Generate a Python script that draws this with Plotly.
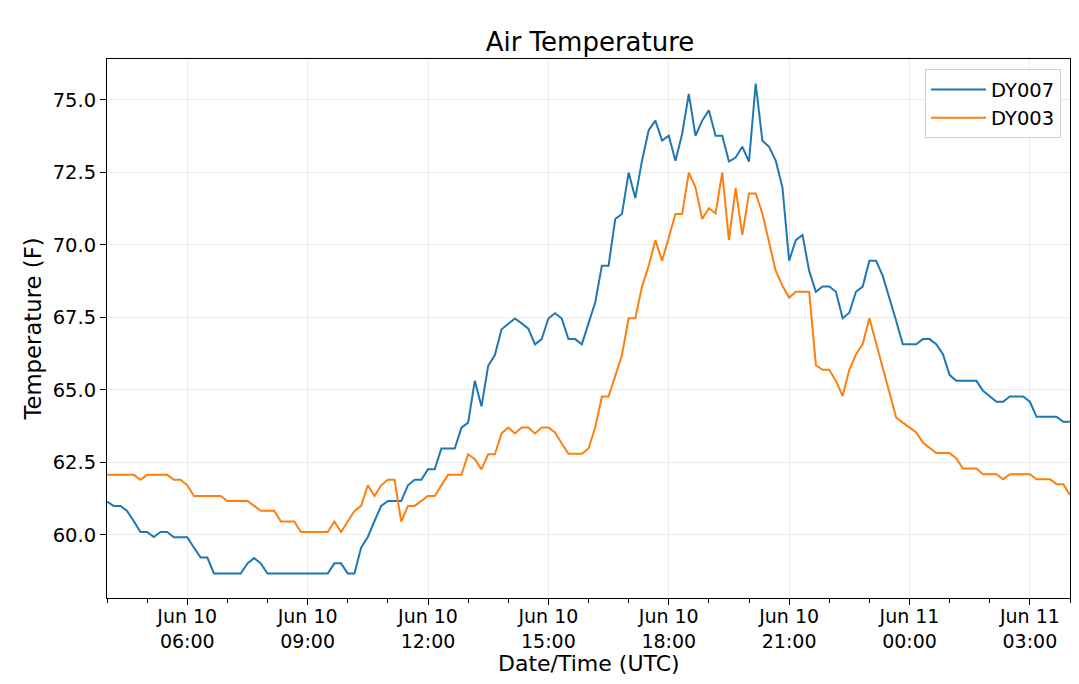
import pandas as pd
import plotly.graph_objects as go

# 10-minute readings, Jun 10 04:00 -> Jun 11 04:00 (UTC)
start_time = "2019-06-10 04:00"
end_time = "2019-06-11 04:00"

dy007 = [
    61.15, 61.0, 61.0, 60.83, 60.48, 60.1, 60.1, 59.93, 60.1, 60.1,
    59.92, 59.92, 59.92, 59.56, 59.22, 59.22, 58.67, 58.67, 58.67, 58.67,
    58.67, 59.02, 59.2, 59.02, 58.67, 58.67, 58.67, 58.67, 58.67, 58.67,
    58.67, 58.67, 58.67, 58.67, 59.02, 59.02, 58.67, 58.67, 59.56, 59.93,
    60.48, 61.0, 61.17, 61.17, 61.17, 61.71, 61.9, 61.9, 62.26, 62.26,
    62.98, 62.98, 62.98, 63.7, 63.87, 65.31, 64.43, 65.83, 66.2, 67.09,
    67.29, 67.46, 67.29, 67.11, 66.57, 66.75, 67.46, 67.64, 67.46, 66.75,
    66.75, 66.57, 67.29, 68.01, 69.28, 69.28, 70.89, 71.06, 72.49, 71.61,
    72.9, 73.95, 74.28, 73.59, 73.76, 72.9, 73.82, 75.2, 73.76, 74.28,
    74.64, 73.76, 73.76, 72.87, 73.01, 73.38, 72.87, 75.56, 73.59, 73.38,
    72.9, 71.98, 69.45, 70.16, 70.34, 69.1, 68.38, 68.56, 68.56, 68.38,
    67.47, 67.66, 68.38, 68.56, 69.45, 69.45, 68.93, 68.18, 67.38, 66.57,
    66.57, 66.57, 66.75, 66.75, 66.57, 66.23, 65.51, 65.31, 65.31, 65.31,
    65.31, 64.97, 64.79, 64.59, 64.59, 64.77, 64.77, 64.77, 64.59, 64.07,
    64.07, 64.07, 64.07, 63.9, 63.9,
]

dy003 = [
    62.07, 62.07, 62.07, 62.07, 62.07, 61.9, 62.07, 62.07, 62.07, 62.07,
    61.9, 61.9, 61.71, 61.34, 61.34, 61.34, 61.34, 61.34, 61.17, 61.17,
    61.17, 61.17, 61.0, 60.83, 60.83, 60.83, 60.46, 60.46, 60.46, 60.1,
    60.1, 60.1, 60.1, 60.1, 60.46, 60.1, 60.46, 60.83, 61.0, 61.71,
    61.34, 61.71, 61.9, 61.9, 60.46, 61.0, 61.0, 61.17, 61.34, 61.34,
    61.69, 62.07, 62.07, 62.07, 62.78, 62.61, 62.26, 62.78, 62.78, 63.5,
    63.7, 63.5, 63.7, 63.7, 63.5, 63.7, 63.7, 63.53, 63.15, 62.8,
    62.8, 62.8, 62.98, 63.7, 64.77, 64.77, 65.48, 66.2, 67.47, 67.47,
    68.56, 69.28, 70.16, 69.45, 70.25, 71.06, 71.06, 72.49, 71.98, 70.89,
    71.26, 71.08, 72.49, 70.16, 71.95, 70.34, 71.77, 71.77, 71.08, 70.14,
    69.1, 68.59, 68.18, 68.38, 68.38, 68.38, 65.85, 65.69, 65.69, 65.31,
    64.79, 65.69, 66.23, 66.57, 67.47, 66.63, 65.77, 64.91, 64.05, 63.87,
    63.7, 63.53, 63.18, 63.01, 62.82, 62.82, 62.82, 62.64, 62.29, 62.29,
    62.29, 62.09, 62.09, 62.09, 61.92, 62.09, 62.09, 62.09, 62.09, 61.92,
    61.92, 61.92, 61.75, 61.75, 61.38,
]

tick_times = [
    "2019-06-10 06:00", "2019-06-10 09:00", "2019-06-10 12:00",
    "2019-06-10 15:00", "2019-06-10 18:00", "2019-06-10 21:00",
    "2019-06-11 00:00", "2019-06-11 03:00",
]
tick_labels = [
    "Jun 10<br>06:00", "Jun 10<br>09:00", "Jun 10<br>12:00",
    "Jun 10<br>15:00", "Jun 10<br>18:00", "Jun 10<br>21:00",
    "Jun 11<br>00:00", "Jun 11<br>03:00",
]

times = pd.date_range(start_time, end_time, periods=len(dy007))

# matplotlib-like 5% y margin
lo = min(min(dy007), min(dy003))
hi = max(max(dy007), max(dy003))
pad = (hi - lo) * 0.05

fig = go.Figure()
fig.add_trace(go.Scatter(x=times, y=dy007, mode="lines", name="DY007",
                         line=dict(color="#1f77b4", width=2)))
fig.add_trace(go.Scatter(x=times, y=dy003, mode="lines", name="DY003",
                         line=dict(color="#ff7f0e", width=2)))

# page body has an 8px margin, so the figure is sized to fit inside it
W, H = 1063, 668
fig.update_layout(
    width=W,
    height=H,
    autosize=False,
    margin=dict(l=99, r=1, t=51, b=78),
    paper_bgcolor="white",
    plot_bgcolor="white",
    font=dict(family="DejaVu Sans", size=19.5, color="#000000"),
    title=dict(text="Air Temperature", x=0.5475, xanchor="center",
               y=1 - 34 / H, yanchor="middle", font=dict(size=26)),
    legend=dict(x=0.9907, xanchor="right", y=0.981, yanchor="top",
                bgcolor="white", bordercolor="#d0d0d0", borderwidth=1,
                itemwidth=55, font=dict(size=19.5)),
    showlegend=True,
)

# x axis title as an annotation so it sits just under the two-line ticks
fig.add_annotation(text="Date/Time (UTC)", xref="paper", yref="paper",
                   x=0.5, y=0, xanchor="center", yanchor="middle",
                   yshift=-65, showarrow=False, font=dict(size=22))

fig.update_xaxes(
    type="date",
    automargin=False,
    range=[start_time, end_time],
    tickmode="array",
    tickvals=tick_times,
    ticktext=tick_labels,
    tickfont=dict(size=19),
    ticks="outside", ticklen=6, tickcolor="black",
    ticklabelstandoff=-5,
    showgrid=True, gridcolor="#ebebeb", gridwidth=1,
    showline=True, linecolor="black", linewidth=1, mirror=True,
    zeroline=False,
    minor=dict(ticks="outside", ticklen=3.5, tickcolor="black",
               dtick=3600000, tick0=start_time, showgrid=False),
)
fig.update_yaxes(
    automargin=False,
    range=[lo - pad, hi + pad],
    tick0=60, dtick=2.5, tickformat=".1f",
    ticks="outside", ticklen=6, tickcolor="black",
    showgrid=True, gridcolor="#ebebeb", gridwidth=1,
    showline=True, linecolor="black", linewidth=1, mirror=True,
    zeroline=False,
    title=dict(text="Temperature (F)", font=dict(size=22.75), standoff=4),
)

fig.write_html("out.html")
